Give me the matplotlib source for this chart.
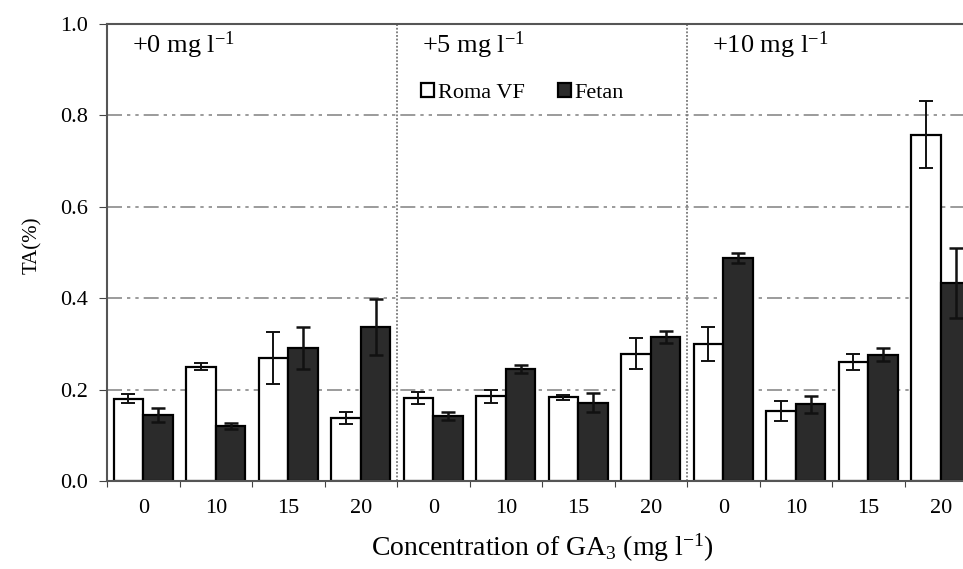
import numpy as np
import matplotlib
matplotlib.use("Agg")
import matplotlib.pyplot as plt

# valeurs (TA %)
panneaux = ['+0 mg l$^{\\mathrm{-1}}$', '+5 mg l$^{\\mathrm{-1}}$', '+10 mg l$^{\\mathrm{-1}}$']
concentrations = ['0', '10', '15', '20'] * 3

roma = [0.180, 0.250, 0.270, 0.138,
        0.182, 0.185, 0.183, 0.278,
        0.300, 0.153, 0.260, 0.758]
roma_err = [0.010, 0.008, 0.057, 0.013,
            0.013, 0.014, 0.006, 0.034,
            0.037, 0.021, 0.017, 0.073]

fetan = [0.145, 0.120, 0.291, 0.337,
         0.142, 0.245, 0.171, 0.315,
         0.488, 0.168, 0.276, 0.433]
fetan_err = [0.015, 0.007, 0.047, 0.062,
             0.008, 0.009, 0.021, 0.013,
             0.012, 0.019, 0.014, 0.077]

plt.rcParams['font.family'] = ['Liberation Serif', 'DejaVu Serif']
plt.rcParams['mathtext.fontset'] = 'custom'
plt.rcParams['mathtext.rm'] = 'Liberation Serif'
plt.rcParams['mathtext.it'] = 'Liberation Serif:italic'

fig = plt.figure(figsize=(9.63, 5.69), dpi=100)
ax = fig.add_axes([107 / 963, 88 / 569, 870 / 963, 457 / 569])

n = len(roma)
centres = np.arange(n) + 0.5
largeur = 0.41

# grille en pointillés
for y in [0.2, 0.4, 0.6, 0.8]:
    ax.axhline(y, color='#8a8a8a', lw=1.2, dashes=(9, 3, 2, 3, 2, 3), zorder=0)

ax.bar(centres - largeur / 2, roma, largeur, color='white', edgecolor='black',
       linewidth=1.6, label='Roma VF', zorder=2)
ax.bar(centres + largeur / 2, fetan, largeur, color='#2b2b2b', edgecolor='black',
       linewidth=1.6, label='Fetan', zorder=2)
ax.errorbar(centres - largeur / 2, roma, yerr=roma_err, fmt='none', ecolor='#111111',
            elinewidth=1.4, capsize=5, capthick=1.4, zorder=3)
ax.errorbar(centres + largeur / 2, fetan, yerr=fetan_err, fmt='none', ecolor='#111111',
            elinewidth=1.8, capsize=5, capthick=1.8, zorder=3)

# séparateurs entre panneaux
for xs in [4, 8]:
    ax.axvline(xs, color='#777777', lw=1.3, ls=(0, (1, 1)), zorder=1)

for i, lab in enumerate(panneaux):
    ax.text(4 * i + 0.35, 0.953, lab, fontsize=19, ha='left', va='center')

ax.set_xlim(0, n)
ax.set_ylim(0, 1.0)
ax.set_yticks(np.arange(0, 1.01, 0.2))
ax.set_yticklabels(['%.1f' % v for v in np.arange(0, 1.01, 0.2)], fontsize=16)
ax.set_xticks(np.arange(0, n + 1), minor=False)
ax.set_xticklabels([])
ax.set_xticks(centres, minor=True)
ax.set_xticklabels(concentrations, minor=True, fontsize=16)
ax.tick_params(axis='x', which='minor', length=0, pad=13)
ax.tick_params(axis='x', which='major', length=4, color='#444444', direction='out')
ax.tick_params(axis='y', length=6, color='#444444', direction='out', pad=8)

for s in ['left', 'top', 'bottom']:
    ax.spines[s].set_color('#555555')
    ax.spines[s].set_linewidth(1.5)
ax.spines['right'].set_visible(False)

ax.set_ylabel('TA(%)', fontsize=15)
ax.yaxis.set_label_coords(-0.075, 0.516)
ax.set_xlabel('Concentration of GA$_3$ (mg l$^{\\mathrm{-1}}$)', fontsize=20, labelpad=10)

leg = ax.legend(loc='center left', bbox_to_anchor=(410 / 963, 1 - 93 / 569),
                bbox_transform=fig.transFigure, ncol=2, frameon=False,
                fontsize=16, handlelength=0.6, handleheight=0.6,
                handletextpad=0.15, columnspacing=1.5, borderpad=0)

fig.savefig('out.png', dpi=100)
